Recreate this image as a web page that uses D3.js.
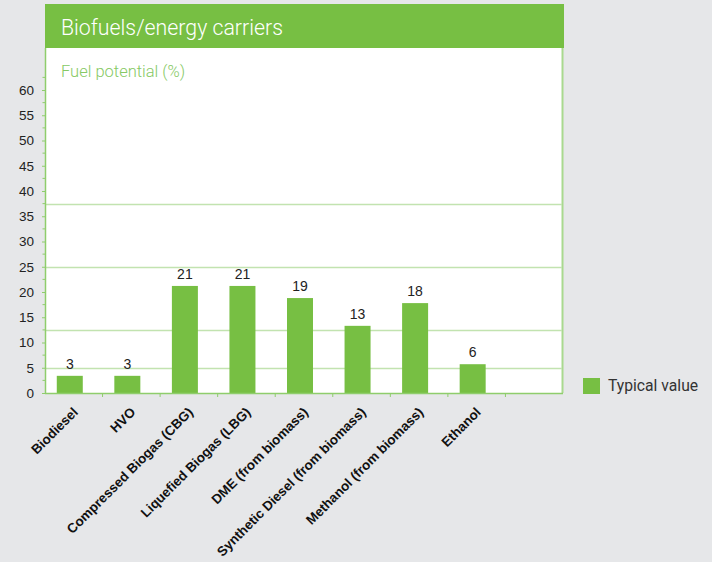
<!DOCTYPE html>
<html>
<head>
<meta charset="utf-8">
<script src="https://cdn.jsdelivr.net/npm/d3@7"></script>
<style>
  html, body { margin: 0; padding: 0; background: #e6e7e9; }
  svg { display: block; }
</style>
</head>
<body>
<div id="chart"></div>
<script>
// chart data
const categories = [
  'Biodiesel', 'HVO', 'Compressed Biogas (CBG)', 'Liquefied Biogas (LBG)',
  'DME (from biomass)', 'Synthetic Diesel (from biomass)', 'Methanol (from biomass)', 'Ethanol'
];
const typicalValues = [3.4, 3.4, 21.2, 21.2, 18.8, 13.3, 17.8, 5.7];
const valueLabels = ['3', '3', '21', '21', '19', '13', '18', '6'];
const yTicks = [0, 5, 10, 15, 20, 25, 30, 35, 40, 45, 50, 55, 60];
const gridValues = [5, 12.5, 25, 37.5];
const titleText = 'Biofuels/energy carriers';
const subtitleText = 'Fuel potential (%)';
const legendLabel = 'Typical value';

const W = 712, H = 562;
const green = '#77bf43';
const gridGreen = '#c2e3b0';
const axisGreen = '#8fcd6c';

const svg = d3.select('#chart').append('svg')
  .attr('width', W).attr('height', H);

svg.append('rect').attr('width', W).attr('height', H).attr('fill', '#e6e7e9');

// panel
const plotLeft = 45, plotRight = 563, plotTop = 48, plotBottom = 393;
svg.append('rect').attr('x', plotLeft).attr('y', 4).attr('width', plotRight - plotLeft + 1).attr('height', 44).attr('fill', green);
svg.append('rect').attr('x', plotLeft).attr('y', plotTop).attr('width', plotRight - plotLeft).attr('height', plotBottom - plotTop).attr('fill', '#fff');
svg.append('line').attr('x1', plotRight - 0.5).attr('x2', plotRight - 0.5).attr('y1', plotTop).attr('y2', plotBottom)
  .attr('stroke', '#a9d98f').attr('stroke-width', 2);

svg.append('text').attr('x', 61).attr('y', 35).text(titleText)
  .attr('fill', '#fff').attr('font-family', 'Roboto, sans-serif').attr('font-weight', 300).attr('font-size', 21.3);
svg.append('text').attr('x', 61).attr('y', 77).text(subtitleText)
  .attr('fill', '#86c964').attr('font-family', 'Roboto, sans-serif').attr('font-weight', 300).attr('font-size', 16.5);

// scales
const y = d3.scaleLinear().domain([0, 60]).range([plotBottom, 90]);
const slots = d3.range(categories.length + 1);
const x = d3.scaleBand().domain(slots).range([plotLeft, plotRight]).padding(0);
const barW = 26;
const barShift = -4;

// gridlines
svg.append('g').selectAll('line').data(gridValues).join('line')
  .attr('x1', plotLeft).attr('x2', plotRight - 1)
  .attr('y1', d => Math.round(y(d)) + 0.5).attr('y2', d => Math.round(y(d)) + 0.5)
  .attr('stroke', gridGreen).attr('stroke-width', 1.5);

// y axis
const yAxis = svg.append('g').attr('transform', `translate(${plotLeft},0)`)
  .call(d3.axisLeft(y).tickValues(yTicks).tickSize(3).tickPadding(8));
yAxis.select('.domain').remove();
yAxis.selectAll('.tick line').attr('stroke', axisGreen);
yAxis.selectAll('.tick text').attr('fill', '#222').attr('font-size', 13.5)
  .attr('font-family', '"Liberation Sans", Arial, sans-serif');
yAxis.append('g').selectAll('line').data(d3.range(2.5, 63, 5)).join('line')
  .attr('x1', -2.5).attr('x2', 0)
  .attr('y1', d => y(d)).attr('y2', d => y(d))
  .attr('stroke', axisGreen);
svg.append('line').attr('x1', plotLeft + 0.5).attr('x2', plotLeft + 0.5).attr('y1', plotTop).attr('y2', plotBottom)
  .attr('stroke', axisGreen).attr('stroke-width', 1.5);

// bars
svg.append('g').selectAll('rect').data(typicalValues).join('rect')
  .attr('x', (d, i) => x(i) + x.bandwidth() / 2 - barW / 2 + barShift)
  .attr('width', barW)
  .attr('y', d => y(d))
  .attr('height', d => y(0) - y(d))
  .attr('fill', green);

svg.append('g').selectAll('text').data(typicalValues).join('text')
  .attr('x', (d, i) => x(i) + x.bandwidth() / 2 + barShift)
  .attr('y', d => y(d) - 7)
  .attr('text-anchor', 'middle')
  .attr('font-family', '"Liberation Sans", Arial, sans-serif')
  .attr('font-size', 14).attr('fill', '#222')
  .text((d, i) => valueLabels[i]);

// x axis
svg.append('line').attr('x1', plotLeft).attr('x2', plotRight).attr('y1', plotBottom + 0.5).attr('y2', plotBottom + 0.5)
  .attr('stroke', axisGreen).attr('stroke-width', 1.5);
svg.append('g').selectAll('line').data(slots.slice(1)).join('line')
  .attr('x1', d => x(d)).attr('x2', d => x(d))
  .attr('y1', plotBottom).attr('y2', plotBottom + 4)
  .attr('stroke', axisGreen);

svg.append('g').selectAll('text').data(categories).join('text')
  .attr('transform', (d, i) => `translate(${x(i) + x.bandwidth() / 2 + 5},${plotBottom + 20}) rotate(-45)`)
  .attr('text-anchor', 'end')
  .attr('font-family', '"Liberation Sans", Arial, sans-serif')
  .attr('font-weight', 'bold').attr('font-size', 13.4).attr('fill', '#111')
  .text(d => d);

// legend
const legend = svg.append('g').attr('transform', 'translate(583,378)');
legend.append('rect').attr('width', 17).attr('height', 16).attr('fill', green);
legend.append('text').attr('x', 25).attr('y', 13).text(legendLabel)
  .attr('font-family', 'Roboto, sans-serif').attr('font-size', 15.7).attr('fill', '#333');
</script>
</body>
</html>
